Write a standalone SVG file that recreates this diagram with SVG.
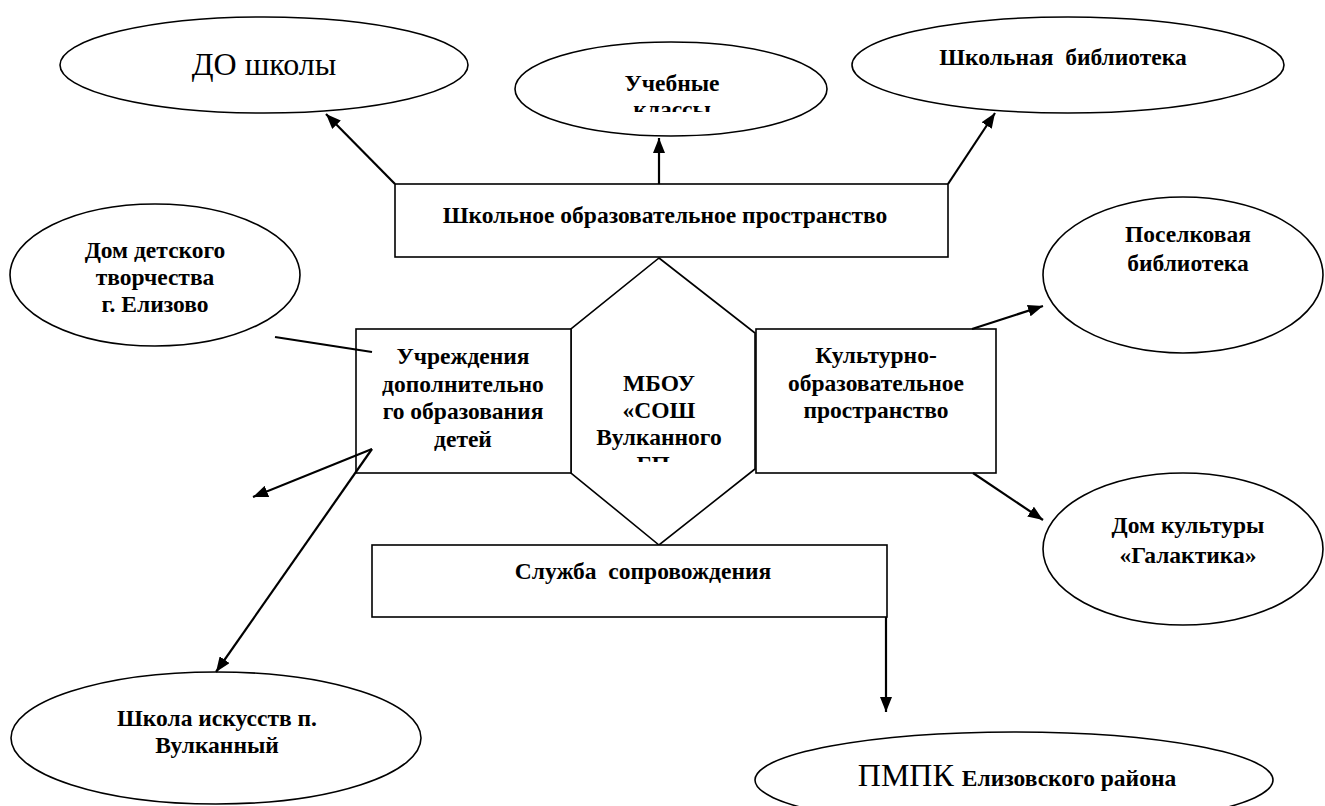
<svg xmlns="http://www.w3.org/2000/svg" width="1325" height="806" viewBox="0 0 1325 806">
<style>
.shape{fill:#fff;stroke:#000;stroke-width:1.6}
.con{stroke:#000;stroke-width:2.2;fill:none}
.b{font-family:"Liberation Serif","Times New Roman",serif;font-weight:bold;font-size:23.5px;text-anchor:middle;fill:#000}
.r{font-family:"Liberation Serif","Times New Roman",serif;font-size:32px;text-anchor:middle;fill:#000}
</style>
<defs>
<marker id="ah" markerUnits="userSpaceOnUse" markerWidth="15" markerHeight="12" refX="15" refY="6" orient="auto">
<path d="M0,0 L15,6 L0,12 z" fill="#000"/>
</marker>
<clipPath id="clipU"><rect x="500" y="0" width="340" height="112"/></clipPath>
<clipPath id="clipH"><rect x="560" y="250" width="200" height="212"/></clipPath>
</defs>
<rect width="1325" height="806" fill="#fff"/>

<g id="do-shkoly">
<ellipse class="shape" cx="264" cy="65" rx="204" ry="48"/>
<text class="r" x="264" y="75">ДО школы</text>
</g>

<g id="uchebnye-klassy">
<ellipse class="shape" cx="671" cy="89" rx="156" ry="47"/>
<g clip-path="url(#clipU)">
<text class="b" x="672" y="91">Учебные</text>
<text class="b" x="672" y="117">классы</text>
</g>
</g>

<g id="shkolnaya-biblioteka">
<ellipse class="shape" cx="1068" cy="65" rx="216" ry="48"/>
<text class="b" x="1063" y="65">Школьная&#160; библиотека</text>
</g>

<g id="shkolnoe-prostranstvo">
<rect class="shape" x="395" y="184" width="553" height="73"/>
<text class="b" x="665" y="223">Школьное образовательное пространство</text>
</g>

<g id="dom-detskogo">
<ellipse class="shape" cx="155" cy="275" rx="145" ry="71"/>
<text class="b" x="155" y="258">Дом детского</text>
<text class="b" x="155" y="285">творчества</text>
<text class="b" x="155" y="312">г. Елизово</text>
</g>

<g id="mbou">
<polygon class="shape" points="659,258 755,333 755,469 659,545 571,473 571,329"/>
<g clip-path="url(#clipH)">
<text class="b" x="659" y="391">МБОУ</text>
<text class="b" x="659" y="418">«СОШ</text>
<text class="b" x="659" y="445">Вулканного</text>
<text class="b" x="659" y="472">ГП»</text>
</g>
</g>

<g id="uchrezhdeniya">
<rect class="shape" x="356" y="329" width="215" height="144"/>
<text class="b" x="463" y="364">Учреждения</text>
<text class="b" x="463" y="391.5">дополнительно</text>
<text class="b" x="463" y="419">го образования</text>
<text class="b" x="463" y="446.5">детей</text>
</g>

<g id="kulturno">
<rect class="shape" x="756" y="329" width="240" height="144"/>
<text class="b" x="876" y="363">Культурно-</text>
<text class="b" x="876" y="391">образовательное</text>
<text class="b" x="876" y="418">пространство</text>
</g>

<g id="poselkovaya">
<ellipse class="shape" cx="1183" cy="275" rx="140" ry="78"/>
<text class="b" x="1188" y="242">Поселковая</text>
<text class="b" x="1188" y="271">библиотека</text>
</g>

<g id="dom-kultury">
<ellipse class="shape" cx="1183" cy="549" rx="140" ry="76"/>
<text class="b" x="1188" y="533">Дом культуры</text>
<text class="b" x="1188" y="563">«Галактика»</text>
</g>

<g id="sluzhba">
<rect class="shape" x="372" y="545" width="515" height="72"/>
<text class="b" x="643" y="579">Служба&#160; сопровождения</text>
</g>

<g id="shkola-iskusstv">
<ellipse class="shape" cx="216" cy="738" rx="205" ry="66"/>
<text class="b" x="217" y="726">Школа искусств п.</text>
<text class="b" x="217" y="753">Вулканный</text>
</g>

<g id="pmpk">
<ellipse class="shape" cx="1014" cy="780" rx="259" ry="48"/>
<text class="r" x="1017" y="786" font-size="31">ПМПК <tspan font-weight="bold" font-size="23.5">Елизовского района</tspan></text>
</g>

<g id="connectors">
<line class="con" x1="395" y1="184" x2="326" y2="114" marker-end="url(#ah)"/>
<line class="con" x1="659" y1="184" x2="659" y2="138" marker-end="url(#ah)"/>
<line class="con" x1="948" y1="184" x2="995" y2="113" marker-end="url(#ah)"/>
<line class="con" x1="275" y1="337" x2="372" y2="352"/>
<line class="con" x1="372" y1="449" x2="253" y2="497" marker-end="url(#ah)"/>
<line class="con" x1="372" y1="449" x2="216" y2="672" marker-end="url(#ah)"/>
<line class="con" x1="972" y1="329" x2="1043" y2="306" marker-end="url(#ah)"/>
<line class="con" x1="973" y1="473" x2="1043" y2="520" marker-end="url(#ah)"/>
<line class="con" x1="886" y1="617" x2="886" y2="712" marker-end="url(#ah)"/>
</g>
</svg>
